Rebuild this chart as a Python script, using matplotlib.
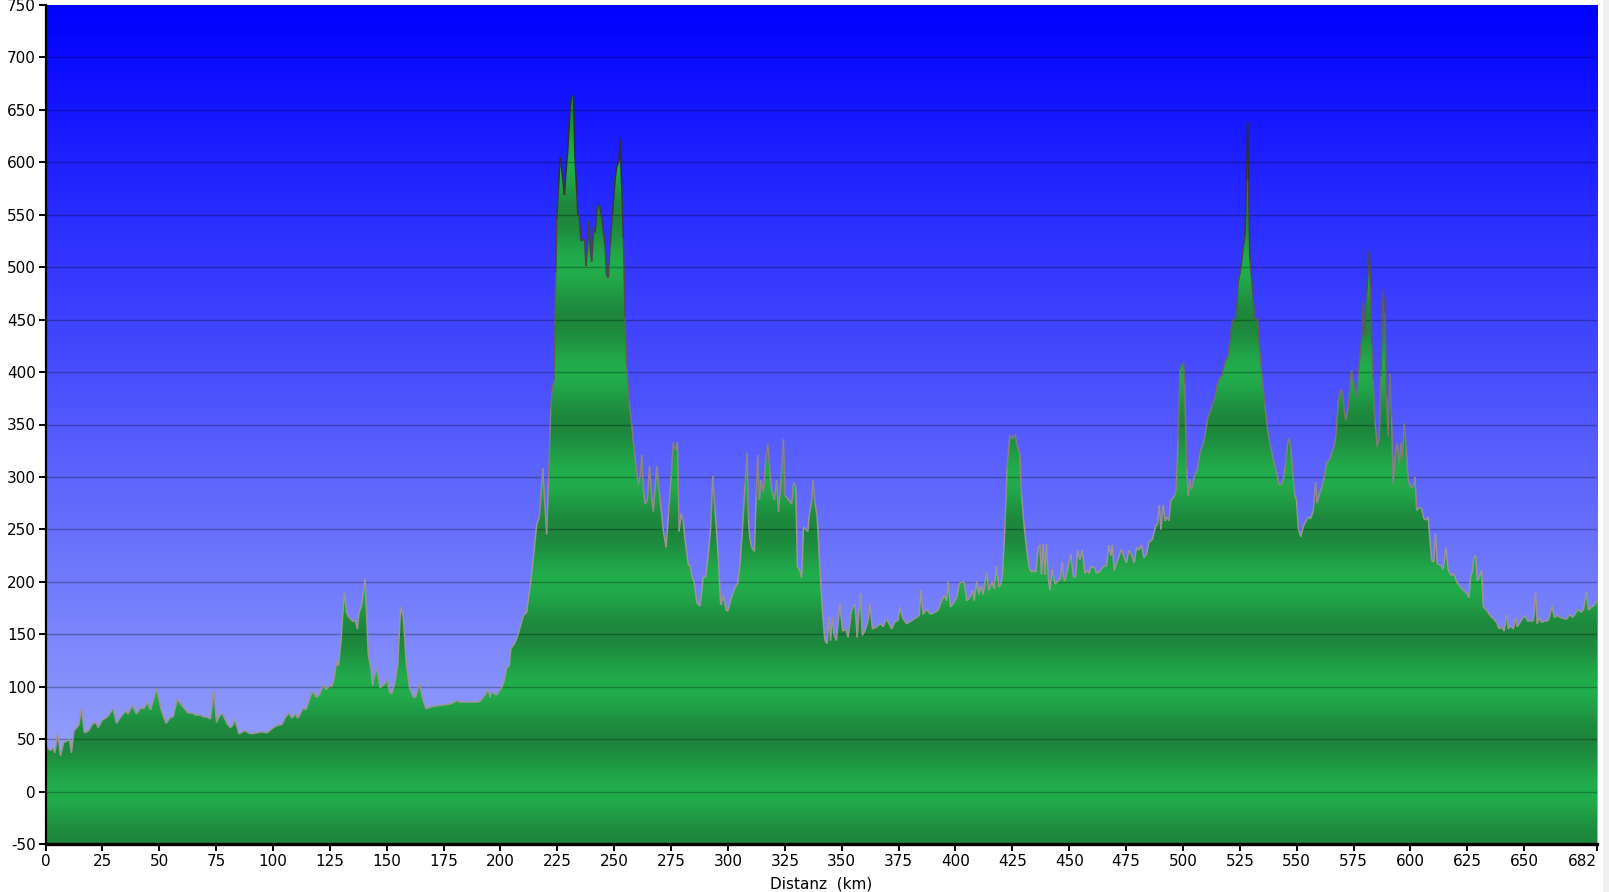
import matplotlib
matplotlib.use("Agg")
import matplotlib.pyplot as plt
import numpy as np
from matplotlib.patches import Polygon, Rectangle
from matplotlib.collections import LineCollection

# Hoehenprofil: Distanz (km) und Hoehe (m)
km = [0, 0.7, 2.2, 3.2, 4.1, 5.4, 6.6, 8, 9.5, 10.5, 11.4, 12.5, 14.6, 15.8, 17.1, 19, 20.5, 22, 23.2, 24.9,
      27.1, 29.7, 31.2, 33, 35.2, 36.2, 38.1, 40, 41.8, 43.2, 44.7, 46.2, 48.8, 51, 53, 55, 56.1, 57.9, 60, 62.6,
      64.5, 65.9, 68.1, 69.6, 71.1, 72.5, 74, 75.2, 76.2, 77.7, 79.9, 81.3, 82.3, 83.2, 85, 87.6, 90.1, 93, 95, 97.4,
      99.6, 101.8, 104, 105.2, 107, 108.4, 109.9, 110.9,
      111.9, 113.4, 114.5, 117, 118, 118.9, 120.4, 122.2, 123.3, 124.8, 125.8, 126.8, 128, 128.8, 129.8, 130.7,
      131.4, 132.4, 133.9, 135.3, 136.1, 137.1, 137.8, 139, 140.5, 141.9, 143, 143.8, 144.4, 145.6, 147.1, 149.3,
      150.3, 151.2, 152.2, 153.7, 154.8, 156.1, 157.3, 158.5, 160, 161.7, 162.7, 164.4, 165.8, 167.3, 169.8, 172.7,
      176.4, 178.6, 180.8, 182.2, 185.2, 188.1, 191, 193.2, 194.7, 195.4, 196.1, 198.3, 200.5, 201.6, 202.7, 203.9,
      204.5, 206.4, 207.9, 210.1, 211.5, 213, 214.5, 215.9, 217.1, 218.6, 220.3, 221.1, 222.1, 222.8, 223.5, 224.3,
      224.7, 225.5, 226.2, 227.2, 228.1, 228.7, 229.6, 230.6, 231.3, 232.1, 232.8, 233.5, 234, 234.5, 235.4, 236.9,
      237.6, 238.4, 238.9, 239.5, 240.1, 241, 241.6, 242.6, 243.5, 244.5, 245.4, 246, 246.6, 247.4, 248.2, 249.2,
      250.4, 251.1, 252.1, 252.6, 253.3, 254, 254.8, 255.5, 256.5, 257.7, 258.9, 259.9, 260.6, 261.4, 262.1, 262.8,
      263.6, 264.6, 265.5, 266.5, 267.2, 268.7, 270.2, 271.6, 272.8, 273.8, 275, 276, 277, 277.8, 278.5, 279.4,
      280.4, 281.1, 282.6, 283.3, 284.1, 285.2, 286.3, 287.7, 289.2, 290.2, 291.4, 292.4, 293.3, 294.3, 295.8, 296.8,
      298, 299.2, 299.9, 301.4, 302.8, 304.3, 305.3, 306.3, 307.5, 308.4, 309, 309.7, 310.4, 311.6, 312.4, 313.1,
      313.8, 314.5, 315.6, 316.6, 317.5, 318.5, 319.2, 320.4, 321.4, 322.2, 323.3, 324.4, 325.1, 326.1, 327.3, 328,
      328.9, 329.8, 330.5, 331.4, 332.4, 333.2, 334.2, 335.1, 335.7, 336.8, 337.4,
      338.2, 339.2, 340.4, 341.6, 342.6, 343.6, 344.4, 345.1, 345.8, 346.5, 347.7, 349.2, 350.4, 351.8, 352.8, 354.3,
      355.8, 356.8, 357.5, 358.3, 359, 360.2, 361.6, 362.4, 363.5, 365.3, 367.2, 368.2, 369.7, 371.9, 373.4, 374.8,
      375.6, 376.7, 378.5, 380.7, 382.9, 384.1, 384.8, 385.8, 387.3, 389, 391, 392.4, 393.9, 395.1, 396.1, 396.8,
      397.8, 399.3, 400.5, 401.6, 402.7, 403.8, 404.9, 406.3, 407.5, 408.2, 409.3, 410.3, 411.2, 412.2, 413.7, 414.7,
      416.1, 417, 418, 419.1, 420, 420.7, 421.7, 422.7, 423.9, 425.1, 426.1, 427.1, 428.3, 429, 430.1, 431.2,
      432.4, 433.4, 434.5, 435.3, 436.4, 437.1, 437.8, 438.6, 439.3, 440, 440.8, 441.5, 442.5, 443.7, 445.2, 446.2,
      446.9, 447.6,
      448.1, 449.6, 450.7, 451.8, 452.8, 453.7, 454.7, 455.7, 456.9, 457.9, 458.8, 459.5, 461.3, 462, 463.5, 465,
      466.4, 467.4, 468.3, 468.9, 469.8, 471.2, 473, 474.5, 475.2, 476.2, 477.4, 478.6, 479.6, 480.6, 481.8, 482.8,
      484, 485, 486.5, 488, 488.8, 489.6, 490.3, 491.3, 492.1, 493.1, 493.8, 494.7, 495.7, 496.9, 497.9, 498.6,
      499.4, 500.3, 500.8, 501.6, 502.3, 503, 503.8, 504.9, 506.4, 507.4, 508.9, 509.6, 510.8, 511.8, 512.9, 514,
      515.2, 516.2, 517.3, 518.4, 519.6, 520.6, 521.7, 522.8, 523.6, 524.3, 525.5, 526.5, 527.2, 528, 528.4, 528.8,
      529.4, 530.2, 530.9, 531.9, 532.8, 533.8, 534.8, 536, 537.2, 538.2, 539.7, 541.1, 542.2, 543.3, 544.1, 545.1,
      546, 546.7, 547.4, 548.5, 549.2, 549.9, 550.7, 551.8, 552.9, 553.9, 555.1, 556.1, 557.3, 558.3, 559, 559.9,
      561, 562.1,
      563.1, 564.3, 565.3, 566.4, 567.2, 568.3, 569.3, 570.2, 570.9, 571.6, 572.7, 573.7, 574.1, 574.9, 575.6, 576.3,
      577, 577.8, 578.5, 579.2, 579.7, 580.3, 580.7, 581.4, 581.9, 582.5, 583, 583.6, 584.4, 585.4, 586.3, 587,
      588, 588.8, 589.5, 590.2, 591, 591.7, 592.4, 593.2, 594.2, 595.1, 595.8, 596.5, 597.3, 598, 599, 600.2,
      601.2, 602, 602.7, 603.9, 604.9, 605.9, 607.1, 607.8, 608.6, 609.4, 610.3, 611, 611.8, 613.2, 614.4, 615.6,
      616.6, 618.1, 619.1, 620.3, 621.7, 623.2, 624.7, 625.7, 626.4, 627.3, 627.9, 628.6, 629.4, 630.2, 631.3, 632,
      633.5, 634.9, 636.4, 637.9, 638.9, 640.1, 641.2, 642.3, 643, 644, 645.2, 646.2, 646.9, 648.1, 649.3, 650.3,
      651.3, 652.8, 654, 655, 655.7, 656.6, 657.6, 659.1, 660.6, 662.3, 663.2, 664.5, 666, 667.4, 668.9, 670.1,
      671.3, 672.3, 673.8, 674.8, 676, 677.4, 678.3, 679.6, 680.6, 682]

hoehe = [45, 42, 39, 42, 37, 55, 34, 47, 48, 50, 37, 58, 63, 79, 56, 58, 64, 66, 61, 68,
         71, 79, 65, 71, 77, 74, 82, 74, 80, 79, 85, 78, 98, 77, 65, 71, 71, 88, 82, 75,
         75, 73, 73, 71, 71, 69, 96, 66, 71, 75, 64, 61, 63, 69, 55, 58, 55, 56, 57, 56,
         60, 63, 64, 70, 75, 70, 74, 70,
         74, 80, 78, 94, 95, 90, 92, 102, 97, 101, 100, 107, 124, 120, 141, 170,
         189, 170, 165, 162, 164, 155, 170, 178, 203, 130, 118, 101, 109, 117, 99, 103,
         107, 95, 93, 105, 120, 176, 166, 124, 99, 90, 90, 103, 88, 79, 81, 82,
         83, 84, 87, 85, 85, 85, 86, 92, 97, 90, 95, 92, 99, 105, 118, 120,
         136, 142, 151, 168, 171, 195, 224, 254, 262, 308, 245, 296, 365, 384, 392, 495,
         546, 576, 605, 588, 569, 588, 612, 652, 664, 663, 603, 573, 550, 550, 525, 527,
         501, 523, 544, 516, 505, 539, 533, 559, 559, 548, 531, 520, 492, 490, 520, 550,
         584, 596, 601, 622, 576, 527, 452, 406, 372, 350, 323, 304, 293, 301, 321, 289,
         274, 278, 310, 281, 267, 310, 278, 248, 233, 263, 301, 333, 325, 333, 248, 265,
         257, 240, 216, 216, 206, 199, 180, 177, 206, 204, 227, 252, 301, 270, 221, 178,
         187, 173, 172, 184, 193, 199, 218, 248, 293, 323, 259, 240, 233, 229, 282, 321,
         278, 297, 286, 316, 331, 304, 287, 278, 297, 267, 297, 336, 282, 280, 276, 274,
         295, 291, 214, 212, 204, 252, 250, 248, 263, 278, 297,
         277, 262, 214, 169, 144, 141, 166, 144, 166, 150, 144, 179, 153, 155, 147, 173,
         179, 147, 169, 188, 149, 153, 163, 179, 155, 157, 160, 157, 165, 155, 162, 163,
         176, 166, 160, 163, 166, 168, 192, 169, 174, 169, 171, 173, 182, 187, 182, 200,
         176, 180, 185, 198, 200, 200, 182, 185, 192, 182, 200, 188, 196, 188, 209, 192,
         200, 193, 215, 195, 198, 207, 252, 309, 340, 336, 341, 330, 322, 284, 255, 233,
         214, 209, 211, 209, 233, 235, 207, 236, 207, 236, 204, 192, 212, 198, 201, 204,
         219, 203,
         201, 215, 226, 205, 205, 230, 221, 230, 208, 211, 208, 215, 213, 208, 210, 215,
         215, 235, 225, 235, 211, 220, 231, 221, 218, 230, 226, 218, 233, 230, 235, 223,
         226, 238, 240, 253, 255, 273, 250, 273, 258, 262, 258, 278, 280, 285, 335, 402,
         407, 409, 389, 308, 282, 298, 288, 300, 308, 322, 332, 338, 355, 362, 369, 375,
         389, 395, 397, 409, 414, 429, 449, 450, 459, 486, 499, 519, 529, 583, 638, 583,
         509, 489, 469, 449, 452, 419, 395, 369, 345, 332, 317, 305, 293, 293, 298, 312,
         332, 337, 328, 298, 282, 278, 251, 243, 253, 257, 262, 260, 268, 295, 275, 283,
         290, 300,
         313, 316, 322, 329, 338, 373, 383, 381, 364, 354, 367, 396, 402, 392, 384, 376,
         396, 415, 431, 466, 434, 466, 475, 494, 515, 482, 427, 392, 354, 329, 338, 396,
         478, 456, 376, 338, 399, 357, 294, 319, 332, 313, 332, 319, 351, 332, 297, 290,
         291, 300, 268, 271, 270, 260, 259, 262, 239, 220, 219, 246, 217, 216, 212, 233,
         211, 206, 208, 200, 196, 192, 189, 185, 204, 211, 224, 225, 201, 204, 211, 176,
         173, 168, 165, 161, 155, 157, 153, 169, 155, 158, 155, 166, 157, 161, 165, 168,
         163, 163, 163, 190, 160, 166, 161, 163, 163, 177, 166, 168, 166, 165, 165, 169,
         166, 169, 174, 171, 173, 190, 173, 176, 177, 182]

x_ticks = list(range(0, 675, 25)) + [682]
y_ticks = list(range(-50, 751, 50))

km = np.array(km)
hoehe = np.array(hoehe)

fig = plt.figure(figsize=(16.09, 8.92), dpi=100)
fig.patch.set_facecolor('white')
fig.patches.append(Rectangle((1603 / 1609, 0), 1, 1, transform=fig.transFigure,
                             facecolor='#f0f0f0', edgecolor='none', zorder=-1))
ax = fig.add_axes([45.5 / 1609, 1 - 844 / 892, (1597 - 45.5) / 1609, (844 - 5) / 892])

ymin, ymax = -50, 750
xmax = 682
ax.set_xlim(0, xmax)
ax.set_ylim(ymin, ymax)

# Hintergrund: Verlauf blau -> hellblau
n = 800
t = np.linspace(0, 1, n)[:, None]  # 0 unten, 1 oben
top = np.array([0, 0, 255]) / 255
bot = np.array([165, 178, 250]) / 255
bg = bot + (top - bot) * t
ax.imshow(bg[:, None, :].repeat(2, axis=1), extent=[0, xmax, ymin, ymax],
          origin='lower', aspect='auto', zorder=0, interpolation='bilinear')

# Gruene Flaeche mit Streifen-Verlauf
yy = np.linspace(ymin, ymax, 1600)
s = 0.5 + 0.5 * np.cos(2 * np.pi * yy / 100.0)
hell = np.array([34, 173, 76]) / 255
dunkel = np.array([29, 134, 60]) / 255
gr = dunkel + (hell - dunkel) * s[:, None]
im = ax.imshow(gr[:, None, :].repeat(2, axis=1), extent=[0, xmax, ymin, ymax],
               origin='lower', aspect='auto', zorder=1, interpolation='bilinear')
verts = np.vstack([[km[0], ymin], np.column_stack([km, hoehe]), [km[-1], ymin]])
clip = Polygon(verts, closed=True, facecolor='none', edgecolor='none', transform=ax.transData)
ax.add_patch(clip)
im.set_clip_path(clip)

# Gitterlinien
for y in range(0, 750, 50):
    ax.axhline(y, color='black', alpha=0.28, lw=1.0, zorder=2)

# Umrisslinie
pts = np.column_stack([km, hoehe])
segs = np.stack([pts[:-1], pts[1:]], axis=1)
ym = (hoehe[:-1] + hoehe[1:]) / 2
f = np.clip((ym - 250) / 350, 0, 1)[:, None]
lc_col = np.array([155, 150, 150]) / 255 * (1 - f) + np.array([45, 45, 50]) / 255 * f
lc = LineCollection(segs, colors=lc_col, linewidths=1.1, zorder=3)
ax.add_collection(lc)

for sp in ['top', 'right']:
    ax.spines[sp].set_visible(False)
ax.spines['left'].set_linewidth(1.6)
ax.spines['bottom'].set_linewidth(2.4)
ax.spines['left'].set_zorder(5)
ax.spines['bottom'].set_zorder(5)

ax.set_xticks(x_ticks)
ax.set_xticklabels([str(v) for v in x_ticks])
ax.set_yticks(y_ticks)
ax.set_yticklabels([str(v) for v in y_ticks])
ax.tick_params(direction='out', length=5, width=1.4, labelsize=11, pad=2, colors='black')
ax.get_xticklabels()[-1].set_horizontalalignment('right')

fig.text(821 / 1609, 1 - 884 / 892, 'Distanz  (km)', ha='center', va='center', fontsize=11)

fig.savefig('out.png', dpi=100)
